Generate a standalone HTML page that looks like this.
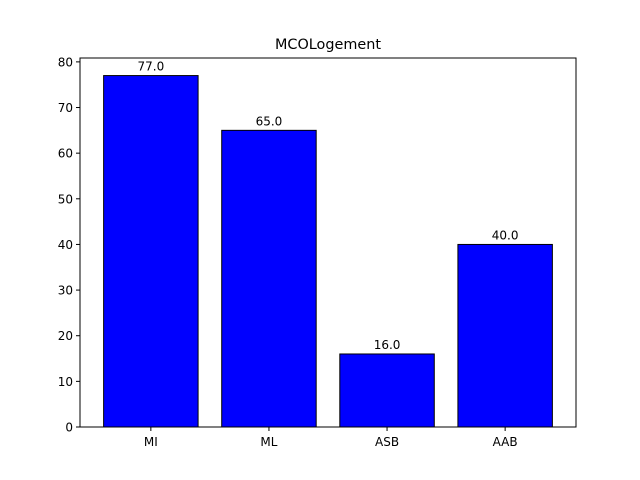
<!DOCTYPE html>
<html><head><meta charset="utf-8"><style>body{margin:0;background:#fff}svg{display:block;font-family:"DejaVu Sans","Liberation Sans",sans-serif}</style></head>
<body>
<svg id="chart" width="640" height="480">
<rect width="640" height="480" fill="#fff"/>
<text x="328" y="49" text-anchor="middle" font-size="14.4">MCOLogement</text>
<g id="bars"></g><g id="axes"></g>
</svg>
<script>
const categories = ["MI","ML","ASB","AAB"];
const values = [77,65,16,40];
const yTicks = [0,10,20,30,40,50,60,70,80];
const L=80,R=576,T=58,B=427;
const ymax=Math.max(...values)*1.05;
const xs=i=>L+(i+0.6)/4.2*(R-L);
const ys=v=>B-v/ymax*(B-T);
const ns="http://www.w3.org/2000/svg";
const bars=document.getElementById('bars'), axes=document.getElementById('axes');
function mk(tag,attrs,parent,text){const e=document.createElementNS(ns,tag);for(const k in attrs)e.setAttribute(k,attrs[k]);if(text!==undefined)e.textContent=text;parent.appendChild(e);return e;}
values.forEach((v,i)=>{
  const w=0.8/4.2*(R-L);
  const r=mk('rect',{x:xs(i)-w/2,y:ys(v),width:w,height:B-ys(v),fill:'#0000ff',stroke:'#000','stroke-width':1},bars);
  
  
  const t=mk('text',{x:xs(i),y:ys(v)-5,'text-anchor':'middle','font-size':'12'},bars,v.toFixed(1));
  
  
  mk('line',{x1:xs(i),x2:xs(i),y1:B,y2:B+4,stroke:'#000'},axes);
  const c=mk('text',{x:xs(i),y:B+19,'text-anchor':'middle','font-size':'12'},axes,categories[i]);
  
  
});
yTicks.forEach(v=>{
  mk('line',{x1:L-4,x2:L,y1:ys(v),y2:ys(v),stroke:'#000'},axes);
  const t=mk('text',{x:L-7,y:ys(v)+4.5,'text-anchor':'end','font-size':'12'},axes,String(v));
  
  
});
const f=mk('rect',{x:L,y:T,width:R-L,height:B-T,fill:'none',stroke:'#000','stroke-width':1},axes);


</script>
</body></html>
